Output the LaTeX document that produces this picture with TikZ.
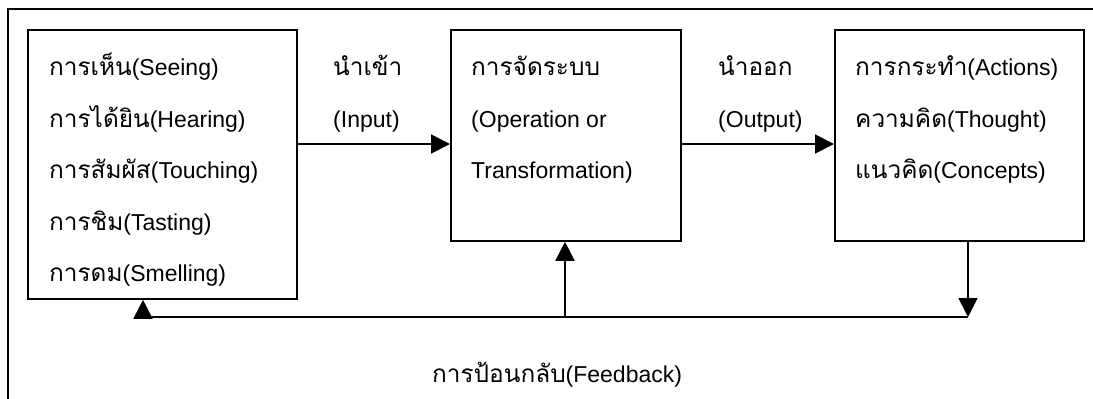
\documentclass[tikz,border=0pt]{standalone}
\usepackage{fontspec}
\setmainfont{Liberation Sans}
\newfontfamily\thaifont[Script=Thai,Scale=1.06]{Loma}
\newcommand{\thai}[1]{{\thaifont #1}}
\usetikzlibrary{arrows.meta}
\tikzset{
  box/.style={draw, line width=1.8pt, anchor=north west, inner sep=0pt},
  txt/.style={anchor=base west, inner sep=0pt, font=\fontsize{23}{23}\selectfont},
  arr/.style={line width=1.8pt, -{Triangle[length=19pt,width=19pt]}},
  ln/.style={line width=1.8pt}
}
\begin{document}
\begin{tikzpicture}[x=1pt,y=-1pt]
\useasboundingbox (0,0) rectangle (1093,399);
% frame
\draw[ln] (8,399) -- (8,9) -- (1093,9);
% boxes
\node[box, minimum width=269pt, minimum height=269pt] (senses) at (27,29) {};
\node[box, minimum width=230pt, minimum height=211pt] (proc) at (450,29) {};
\node[box, minimum width=249pt, minimum height=211pt] (result) at (834,29) {};
% input side
\node[txt] (s1) at (49,75.5) {\thai{การเห็น}(Seeing)};
\node[txt] (s2) at (49,127) {\thai{การได้ยิน}(Hearing)};
\node[txt] (s3) at (49,178.5) {\thai{การสัมผัส}(Touching)};
\node[txt] (s4) at (49,230) {\thai{การชิม}(Tasting)};
\node[txt] (s5) at (49,281.5) {\thai{การดม}(Smelling)};
% process
\node[txt] (p1) at (471,75.5) {\thai{การจัดระบบ}};
\node[txt] (p2) at (471,127) {(Operation or};
\node[txt] (p3) at (471,178.5) {Transformation)};
% results
\node[txt] (r1) at (855,75.5) {\thai{การกระทำ}(Actions)};
\node[txt] (r2) at (855,127) {\thai{ความคิด}(Thought)};
\node[txt] (r3) at (855,178.5) {\thai{แนวคิด}(Concepts)};
% arrow labels
\node[txt] (in1) at (333,75.5) {\thai{นำเข้า}};
\node[txt] (in2) at (333,127) {(Input)};
\node[txt] (out1) at (718,75.5) {\thai{นำออก}};
\node[txt] (out2) at (718,127) {(Output)};
\node[txt] (fb) at (432,382) {\thai{การป้อนกลับ}(Feedback)};
% connectors
\coordinate (fbR) at (968,317);
\coordinate (fbM) at (565,317);
\coordinate (fbL) at (143,317);
\draw[arr] (senses.east |- 0,144) -- (proc.west |- 0,144);
\draw[arr] (proc.east |- 0,144) -- (result.west |- 0,144);
\draw[arr] (result.south -| fbR) -- (fbR);
\draw[ln] (fbR) -- (fbL);
\draw[arr] (fbL) -- (fbL |- senses.south);
\draw[arr] (fbM) -- (fbM |- proc.south);
\end{tikzpicture}
\end{document}
